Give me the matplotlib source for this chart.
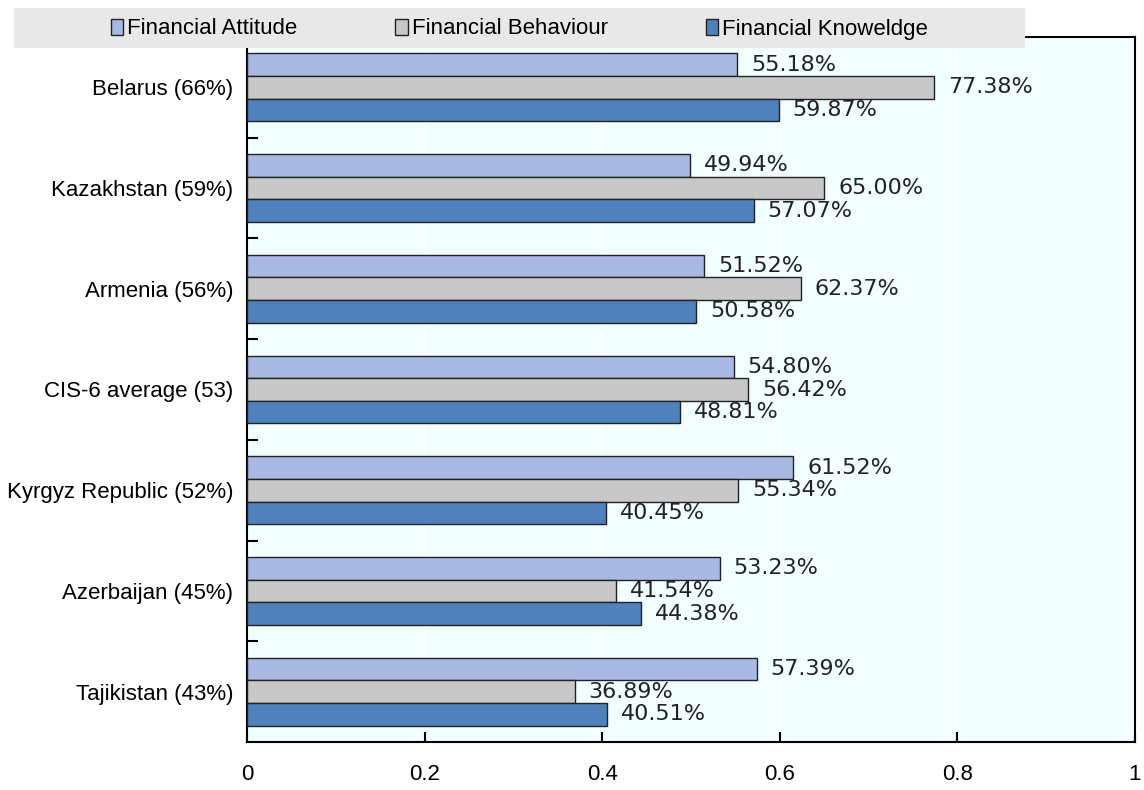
import numpy as np
import matplotlib
matplotlib.use("Agg")
from matplotlib import pyplot as plt
from matplotlib.patches import Rectangle

# data (fractions, labelled as percent)
countries = ["Belarus (66%)", "Kazakhstan (59%)", "Armenia (56%)", "CIS-6 average (53)",
             "Kyrgyz Republic (52%)", "Azerbaijan (45%)", "Tajikistan (43%)"]
attitude = [0.5518, 0.4994, 0.5152, 0.5480, 0.6152, 0.5323, 0.5739]
behaviour = [0.7738, 0.6500, 0.6237, 0.5642, 0.5534, 0.4154, 0.3689]
knowledge = [0.5987, 0.5707, 0.5058, 0.4881, 0.4045, 0.4438, 0.4051]
series_names = ["Financial Attitude", "Financial Behaviour", "Financial Knoweldge"]
xticks = [0, 0.2, 0.4, 0.6, 0.8, 1]
xtick_labels = ["0", "0.2", "0.4", "0.6", "0.8", "1"]

colors = ["#A9B9E3", "#C8C8C8", "#4F81BD"]
label_font = "Liberation Sans"

fig = plt.figure(figsize=(11.44, 7.9), dpi=100)
ax = fig.add_axes([247 / 1144, 1 - 742 / 790, (1135 - 247) / 1144, (742 - 37) / 790])
ax.set_facecolor("#F2FFFF")

y = np.arange(len(countries))
h = 0.225
for k, (vals, name) in enumerate(zip([attitude, behaviour, knowledge], series_names)):
    bars = ax.barh(y + (k - 1) * h, vals, height=h, color=colors[k],
                   edgecolor="#222222", linewidth=1, label=name, zorder=3)
    ax.bar_label(bars, labels=[f"{v * 100:.2f}%" for v in vals], padding=10,
                 fontsize=16, color="#222222", family="DejaVu Sans")

ax.set_xlim(0, 1)
ax.set_ylim(len(countries) - 0.5, -0.5)
ax.set_xticks(xticks)
ax.set_xticklabels(xtick_labels, family=label_font, fontsize=16)
ax.set_yticks(y)
ax.set_yticklabels(countries, family=label_font, fontsize=16)
ax.set_yticks(np.arange(0.5, len(countries) - 0.5, 1), minor=True)
ax.tick_params(axis="y", which="major", length=0, pad=10)
ax.tick_params(axis="y", which="minor", direction="in", length=8, width=1.5, color="black")
ax.tick_params(axis="x", direction="in", length=7, width=1.5, pad=16)
ax.grid(axis="x", color="white", linewidth=1.2, zorder=1)
ax.set_axisbelow(True)
for s in ax.spines.values():
    s.set_color("black")
    s.set_linewidth(1.5)

# legend band on top
fig.patches.append(Rectangle((14 / 1144, 1 - 48 / 790), 1011 / 1144, 40 / 790,
                             transform=fig.transFigure, facecolor="#E8E8E8",
                             edgecolor="none", zorder=5))
leg = fig.legend(loc="center", bbox_to_anchor=(519.5 / 1144, 1 - 29 / 790), ncol=3,
                 frameon=False, prop={"family": label_font, "size": 16},
                 handlelength=0.55, handleheight=0.7, handletextpad=0.2,
                 columnspacing=4.4)
leg.set_zorder(6)

fig.savefig("out.png", dpi=100)
